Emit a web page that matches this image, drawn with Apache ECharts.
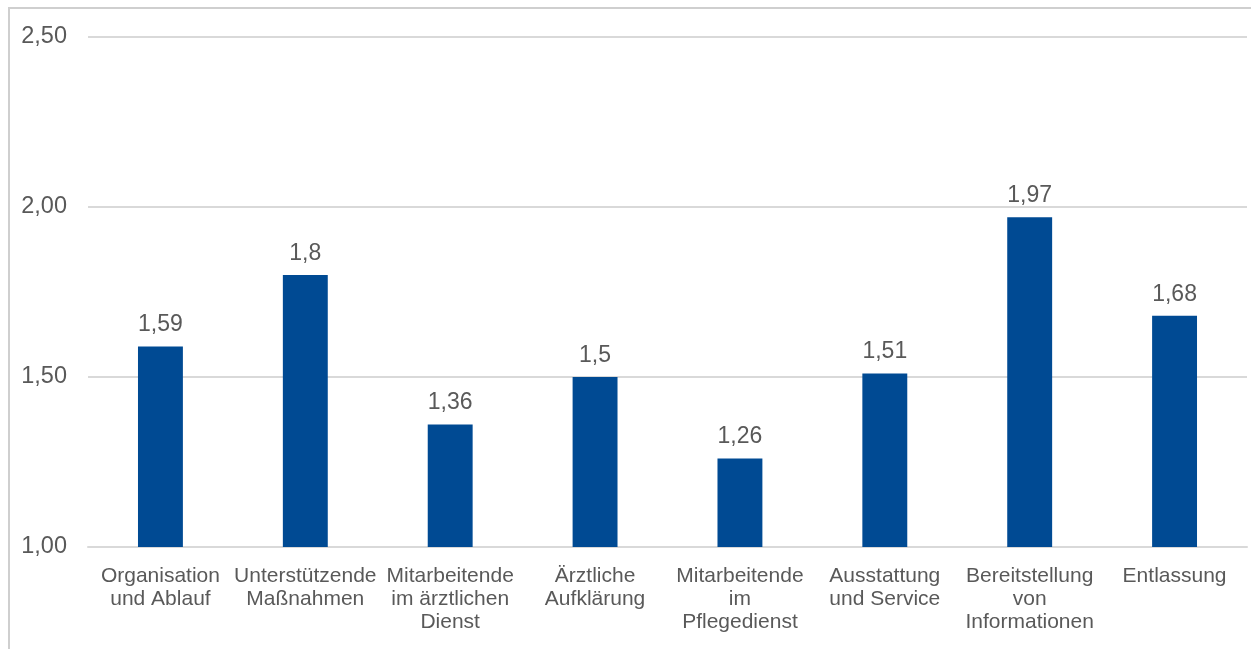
<!DOCTYPE html>
<html>
<head>
<meta charset="utf-8">
<script src="https://cdn.jsdelivr.net/npm/echarts@6/dist/echarts.min.js"></script>
<style>
  html, body { margin: 0; padding: 0; background: #fff; }
  #frame { position: absolute; left: 8px; top: 7px; width: 1300px; height: 700px; border: 2px solid #cfcfcf; box-sizing: border-box; }
  #chart { position: absolute; left: 0; top: 0; width: 1251px; height: 649px; }
</style>
</head>
<body>
<div id="frame"></div>
<div id="chart"></div>
<script>
const categories = [
  "Organisation\nund Ablauf",
  "Unterstützende\nMaßnahmen",
  "Mitarbeitende\nim ärztlichen\nDienst",
  "Ärztliche\nAufklärung",
  "Mitarbeitende\nim\nPflegedienst",
  "Ausstattung\nund Service",
  "Bereitstellung\nvon\nInformationen",
  "Entlassung"
];
const values = [1.59, 1.8, 1.36, 1.5, 1.26, 1.51, 1.97, 1.68];
const yTicks = { min: 1, max: 2.5, interval: 0.5 };

const chart = echarts.init(document.getElementById('chart'), null, { renderer: 'canvas' });
const textColor = '#595959';
const font = 'Liberation Sans, Arial, sans-serif';
chart.setOption({
  animation: false,
  grid: { left: 88, right: 4, top: 37, bottom: 102, containLabel: false },
  xAxis: {
    type: 'category',
    data: categories,
    axisLine: { show: true, lineStyle: { color: '#d9d9d9', width: 2 } },
    axisTick: { show: false },
    axisLabel: { color: textColor, fontFamily: font, fontSize: 21, lineHeight: 23, margin: 18, interval: 0 }
  },
  yAxis: {
    type: 'value',
    min: yTicks.min, max: yTicks.max, interval: yTicks.interval,
    axisLine: { show: false },
    axisTick: { show: false },
    splitLine: { lineStyle: { color: '#d9d9d9', width: 2 } },
    axisLabel: {
      color: textColor, fontFamily: font, fontSize: 23.5, margin: 21,
      formatter: v => v.toFixed(2).replace('.', ',')
    }
  },
  series: [{
    type: 'bar',
    data: values,
    barWidth: '31%',
    itemStyle: { color: '#004A93' },
    label: {
      show: true, position: 'top', distance: 10,
      color: textColor, fontFamily: font, fontSize: 23,
      formatter: p => String(p.value).replace('.', ',')
    }
  }]
});
</script>
</body>
</html>
